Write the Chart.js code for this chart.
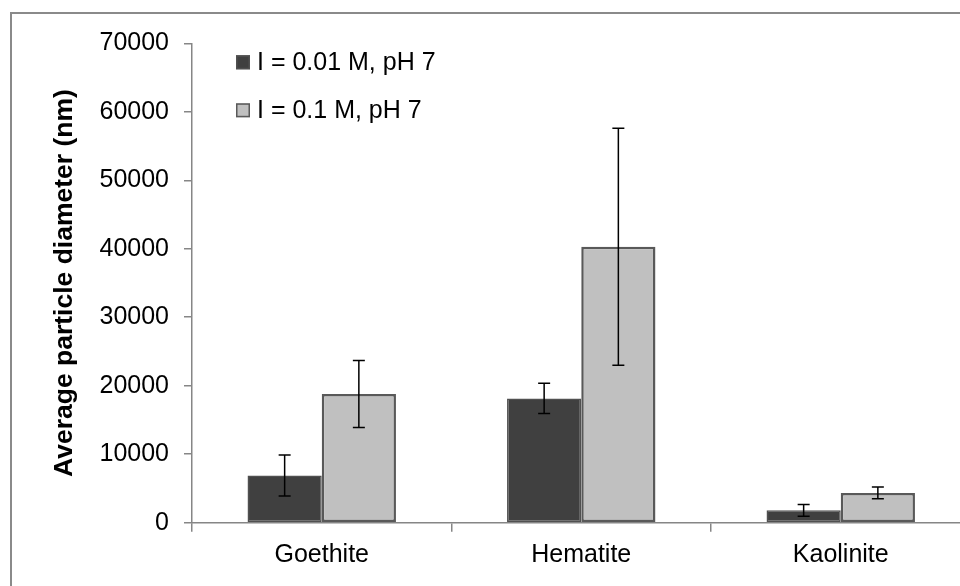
<!DOCTYPE html>
<html>
<head>
<meta charset="utf-8">
<script src="https://cdn.jsdelivr.net/npm/chart.js@4.4.1/dist/chart.umd.min.js"></script>
<style>
  html, body { margin: 0; padding: 0; background: #ffffff; overflow: hidden; }
  #wrap { width: 980px; height: 586px; position: relative; }
</style>
</head>
<body>
<div id="wrap"><canvas id="chart"></canvas></div>
<script>
// Minerals measured
const categories = ['Goethite', 'Hematite', 'Kaolinite'];

// Series names
const seriesLabels = ['I = 0.01 M, pH 7', 'I = 0.1 M, pH 7'];

// Mean particle diameter (nm) and standard deviation for each ionic strength
const lowIonicMean = [6900, 18150, 1800];
const lowIonicErr = [3000, 2200, 850];
const highIonicMean = [18800, 40300, 4350];
const highIonicErr = [4900, 17300, 850];

// Y axis range and step
const yMin = 0;
const yMax = 70000;
const yStep = 10000;

const FONT = "'Liberation Sans', Arial, sans-serif";
const AXIS_GREY = '#868686';

// White page with grey outer frame
const framePlugin = {
  id: 'frame',
  beforeDraw(chart) {
    const ctx = chart.ctx;
    ctx.save();
    ctx.fillStyle = '#ffffff';
    ctx.fillRect(0, 0, chart.width, chart.height);
    ctx.strokeStyle = '#8a8a8a';
    ctx.lineWidth = 2;
    ctx.strokeRect(11, 13, chart.width + 20, chart.height + 20);
    ctx.restore();
  }
};

// Symmetric error bars drawn at each bar's centre
const errorBarPlugin = {
  id: 'errorBars',
  afterDatasetsDraw(chart) {
    const ctx = chart.ctx;
    const y = chart.scales.y;
    ctx.save();
    ctx.strokeStyle = '#000000';
    ctx.lineWidth = 1.5;
    chart.data.datasets.forEach((ds, di) => {
      const meta = chart.getDatasetMeta(di);
      meta.data.forEach((bar, i) => {
        const v = ds.data[i];
        const e = ds.errors[i];
        const x = bar.x;
        const top = y.getPixelForValue(v + e);
        const bot = y.getPixelForValue(v - e);
        const cap = 6;
        ctx.beginPath();
        ctx.moveTo(x, top); ctx.lineTo(x, bot);
        ctx.moveTo(x - cap, top); ctx.lineTo(x + cap, top);
        ctx.moveTo(x - cap, bot); ctx.lineTo(x + cap, bot);
        ctx.stroke();
      });
    });
    ctx.restore();
  }
};

// Legend placed inside the plot, upper left
const insideLegendPlugin = {
  id: 'insideLegend',
  afterDraw(chart) {
    const ctx = chart.ctx;
    const area = chart.chartArea;
    ctx.save();
    ctx.font = '25px ' + FONT;
    ctx.textBaseline = 'middle';
    ctx.textAlign = 'left';
    chart.data.datasets.forEach((ds, i) => {
      const cy = area.top + 19 + i * 48;
      const bx = area.left + 44;
      ctx.fillStyle = ds.backgroundColor;
      ctx.fillRect(bx, cy - 7, 14, 14);
      ctx.strokeStyle = ds.borderColor;
      ctx.lineWidth = 1.5;
      ctx.strokeRect(bx + 0.75, cy - 6.25, 12.5, 12.5);
      ctx.fillStyle = '#000000';
      ctx.fillText(ds.label, bx + 21, cy + 1);
    });
    ctx.restore();
  }
};

new Chart(document.getElementById('chart'), {
  type: 'bar',
  data: {
    labels: categories,
    datasets: [
      {
        label: seriesLabels[0],
        data: lowIonicMean,
        errors: lowIonicErr,
        backgroundColor: '#404040',
        borderColor: '#505050',
        borderWidth: 1.5,
        borderSkipped: false
      },
      {
        label: seriesLabels[1],
        data: highIonicMean,
        errors: highIonicErr,
        backgroundColor: '#c0c0c0',
        borderColor: '#595959',
        borderWidth: 2.5,
        borderSkipped: false
      }
    ]
  },
  options: {
    responsive: true,
    maintainAspectRatio: false,
    animation: false,
    layout: { padding: { left: 0, top: 43.3, right: 9.5, bottom: 0 } },
    plugins: {
      legend: { display: false },
      tooltip: { enabled: false }
    },
    datasets: {
      bar: { barPercentage: 1.0, categoryPercentage: 0.572 }
    },
    scales: {
      x: {
        grid: {
          display: true,
          drawOnChartArea: false,
          drawTicks: true,
          tickLength: 9,
          offset: true,
          color: AXIS_GREY,
          lineWidth: 1.5
        },
        border: { display: true, color: AXIS_GREY, width: 1.5 },
        ticks: {
          color: '#000000',
          font: { family: FONT, size: 25 },
          padding: 8,
          maxRotation: 0
        },
        afterFit(scale) { scale.height = 63.3; }
      },
      y: {
        min: yMin,
        max: yMax,
        grid: {
          display: true,
          drawOnChartArea: false,
          drawTicks: true,
          tickLength: 8,
          color: AXIS_GREY,
          lineWidth: 1.5
        },
        border: { display: true, color: AXIS_GREY, width: 1.5 },
        ticks: {
          stepSize: yStep,
          color: '#000000',
          font: { family: FONT, size: 25 },
          padding: 15,
          callback: (v) => String(v)
        },
        title: {
          display: true,
          text: 'Average particle diameter (nm)',
          color: '#000000',
          font: { family: FONT, size: 26.5, weight: 'bold' },
          padding: { top: 49, bottom: 0 }
        },
        afterFit(scale) { scale.width = 192; }
      }
    }
  },
  plugins: [framePlugin, errorBarPlugin, insideLegendPlugin]
});
</script>
</body>
</html>
